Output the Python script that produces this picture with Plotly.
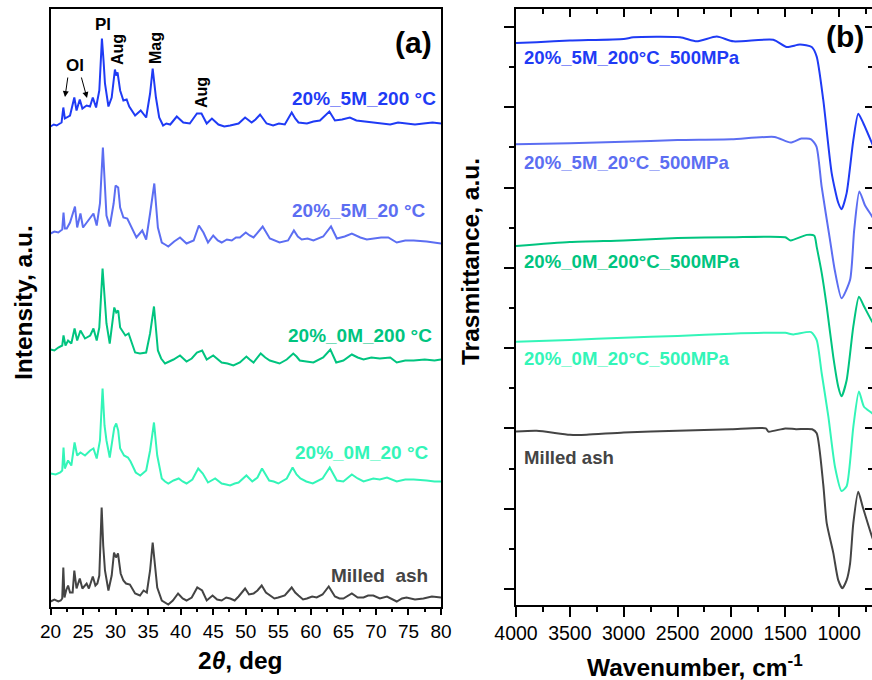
import numpy as np
import plotly.graph_objects as go

FONT = "Liberation Sans"

# ---------------- XRD data (2theta, deg / intensity above each trace's own baseline) ----------------
xrd_names = ["Milled  ash", "20%_0M_20 °C", "20%_0M_200 °C", "20%_5M_20 °C", "20%_5M_200 °C"]
xrd_colors = ["#444444", "#33f5b8", "#00c47f", "#5c6ef2", "#1f3bf5"]
xrd_offsets = [0, 120, 240, 360, 475]

milled_tt = [20, 20.6, 21.2, 21.57, 21.8, 21.97, 22.15, 22.4, 22.7, 23.0, 23.4, 23.66, 24.0, 24.5, 24.9, 25.55,
             25.9, 26.5, 26.9, 27.2, 27.5, 27.86, 28.1, 28.37, 28.9, 29.4, 29.76, 30.06, 30.37, 30.78, 31.2,
             31.6, 32.2, 33, 33.75, 34.3, 34.8, 35.3, 35.7, 36.1, 36.4, 37.1, 37.6, 38.1, 38.8, 39.6, 40.3,
             40.9, 41.7, 42.55, 43.3, 44, 44.9, 45.6, 46.3, 47.0, 47.6, 48.3, 48.9, 49.9, 50.5, 51.2, 51.8,
             52.45, 53.1, 53.7, 54.4, 55, 56, 57.06, 57.6, 58.1, 58.8, 59.4, 60.2, 60.9, 61.8, 62.75, 63.7,
             64.4, 65, 66.3, 67.2, 68.1, 68.8, 69.6, 70.6, 71.7, 72.5, 73.2, 74.0, 74.7, 76.0, 77.3, 78.6, 80]
milled_int = [5, 7, 5, 6, 8, 39, 9, 16, 21, 14, 14, 36, 18, 28, 18, 23,
              18, 30, 21, 23, 31, 99, 61, 36, 16, 31, 54, 49, 53, 33, 26,
              23, 22, 13, 11, 16, 14, 36, 64, 41, 19, 6, 4, 2, 6, 13, 8,
              6, 9, 19, 16, 6, 11, 7, 6, 9, 8, 6, 10, 18, 12, 13, 16,
              21, 14, 11, 8, 9, 11, 19, 14, 11, 7, 8, 10, 9, 12, 20, 10,
              8, 8, 13, 9, 9, 11, 11, 8, 10, 7, 5, 8, 9, 7, 8, 10, 9]

m0_20_tt = [20, 20.8, 21.5, 21.8, 22, 22.2, 22.7, 23.2, 23.7, 24.1, 24.6, 25.3, 26.1, 26.6, 27.1, 27.6, 28,
            28.3, 28.6, 29.1, 29.8, 30.1, 30.4, 30.7, 31.3, 31.9, 32.3, 33.1, 33.8, 34.7, 35.3, 35.9, 36.4,
            37.1, 37.6, 38.1, 38.9, 39.7, 40.3, 40.9, 41.8, 42.7, 43.4, 44.2, 45.3, 46.3, 47.0, 47.6, 48.3,
            48.9, 50.1, 51, 51.8, 52.5, 53.6, 54.3, 55, 56.3, 57.2, 57.8, 58.4, 59.3, 60.3, 61.8, 62.9, 64,
            65, 66.3, 67.2, 68.1, 69.6, 70.6, 71.7, 73.2, 74.5, 75.8, 77.8, 79, 80]
m0_20_int = [13, 12, 14, 16, 39, 18, 26, 21, 44, 31, 34, 31, 36, 38, 28, 46, 98,
             61, 46, 29, 59, 63, 56, 38, 31, 29, 25, 14, 11, 16, 36, 64, 31,
             8, 5, 3, 6, 8, 5, 3, 7, 18, 13, 4, 8, 3, 2, 1, 3,
             4, 11, 5, 9, 18, 6, 5, 3, 8, 19, 12, 8, 5, 3, 8, 19, 6,
             5, 12, 8, 5, 8, 7, 9, 5, 7, 7, 6, 5, 5]

m0_200_tt = [20, 20.6, 21.2, 21.8, 22, 22.3, 22.7, 23.2, 23.7, 24.1, 24.6, 25.3, 26.1, 26.6, 27.1, 27.5, 28,
             28.3, 28.6, 29.1, 29.8, 30.1, 30.4, 30.7, 31.5, 32, 33, 33.75, 34.7, 35.3, 35.9, 36.5, 37.0,
             37.6, 38.3, 38.9, 39.9, 40.9, 41.7, 42.5, 43.3, 44, 45, 45.7, 46.3, 47.2, 48.1, 49.1, 50.1,
             50.6, 51.2, 52.3, 53.0, 53.7, 54.5, 55.2, 56.3, 57.3, 57.8, 58.3, 59.3, 60.4, 61.9, 63, 63.9,
             65.0, 66.3, 67.2, 68.1, 69.3, 70.6, 72.2, 73.2, 74.5, 75.8, 77.5, 79, 80]
m0_200_int = [17, 16, 19, 21, 31, 21, 26, 23, 38, 26, 36, 28, 31, 38, 26, 39, 98,
              66, 43, 23, 59, 54, 56, 39, 31, 33, 14, 13, 14, 33, 60, 16, 8,
              3, 5, 7, 11, 5, 8, 14, 16, 7, 11, 7, 4, 3, 1, 4, 10,
              7, 4, 13, 9, 6, 4, 3, 7, 13, 10, 6, 5, 4, 9, 17, 4,
              6, 12, 9, 7, 9, 8, 9, 4, 6, 6, 7, 6, 7]

m5_20_tt = [20, 20.6, 21.2, 21.8, 22, 22.2, 22.5, 23, 23.76, 24.1, 24.6, 25, 25.8, 26.6, 27.1, 27.6, 28.05,
            28.3, 28.6, 29.1, 29.7, 30, 30.4, 30.7, 31.2, 31.8, 32.5, 33.2, 34.1, 34.7, 35.3, 35.95, 36.5,
            37.1, 37.6, 38.1, 39.0, 39.9, 40.9, 41.5, 42, 42.8, 43.5, 44.2, 45, 45.7, 46.3, 47.1, 47.85,
            48.5, 49.1, 50, 50.6, 51.2, 52.2, 52.6, 53.7, 54.5, 55.2, 56.5, 57.4, 58.0, 58.6, 59.5, 60.4,
            61.9, 63.1, 64, 65.2, 66.3, 67.6, 68.6, 69.6, 70.8, 71.9, 73.2, 74.5, 75.8, 77.8, 79, 80]
m5_20_int = [13, 15, 14, 17, 34, 18, 18, 24, 40, 19, 33, 19, 26, 33, 21, 43, 99,
             61, 31, 20, 43, 61, 59, 39, 29, 28, 19, 9, 16, 7, 33, 63, 19,
             4, 2, 0, 5, 9, 3, 5, 6, 21, 14, 4, 11, 6, 4, 7, 6,
             9, 9, 14, 11, 9, 17, 20, 8, 6, 4, 6, 16, 10, 7, 8, 6,
             10, 20, 8, 10, 13, 9, 7, 8, 9, 9, 4, 6, 6, 5, 4, 3]

m5_200_tt = [20, 20.5, 20.95, 21.7, 21.97, 22.2, 22.5, 23, 23.66, 24, 24.5, 24.9, 25.55, 26.07, 26.5, 27, 27.5,
             27.9, 28.15, 28.37, 28.9, 29.4, 29.9, 30.1, 30.3, 30.7, 31.2, 31.7, 32.1, 33, 33.86, 34.7, 35.3,
             35.7, 36.2, 36.7, 37.3, 37.8, 38.4, 39.4, 40.4, 41.4, 42.5, 43.2, 44, 44.8, 45.8, 46.7, 47.6,
             48.3, 48.9, 49.9, 50.9, 51.5, 52.2, 53.2, 54.2, 55.1, 56, 57.06, 57.6, 58.1, 59.4, 60.4, 61.4,
             62.85, 63.7, 64.8, 66, 67.0, 68.1, 69.6, 70.9, 72.2, 73.4, 74.7, 76.0, 77.3, 78.7, 80]
m5_200_int = [5, 7, 6, 9, 24, 13, 14, 16, 34, 21, 32, 23, 26, 25, 34, 24, 41,
              93, 71, 48, 25, 34, 62, 56, 59, 41, 31, 32, 25, 16, 21, 14, 38,
              63, 34, 14, 6, 8, 7, 15, 9, 8, 18, 18, 8, 13, 7, 5, 6,
              7, 8, 14, 9, 12, 17, 8, 6, 8, 7, 19, 13, 9, 8, 10, 11,
              20, 11, 12, 14, 11, 10, 9, 8, 7, 9, 8, 7, 8, 9, 8]

xrd_tt = [milled_tt, m0_20_tt, m0_200_tt, m5_20_tt, m5_200_tt]
xrd_int = [milled_int, m0_20_int, m0_200_int, m5_20_int, m5_200_int]

# ---------------- FTIR data (wavenumber, cm-1 / stacked transmittance, a.u.) ----------------
ftir_names = ["Milled ash", "20%_0M_20°C_500MPa", "20%_0M_200°C_500MPa",
              "20%_5M_20°C_500MPa", "20%_5M_200°C_500MPa"]
ftir_colors = ["#444444", "#33f5b8", "#00c47f", "#5c6ef2", "#1f3bf5"]

milled_wn = [4000, 3808, 3500, 3344, 3000, 2500, 2000, 1680, 1657, 1500, 1400, 1250, 1208, 1147, 1115,
             1054, 1008, 970, 930, 898, 868, 822, 780, 694, 650]
milled_tr = [1.96, 1.97, 1.92, 1.92, 1.95, 1.97, 1.99, 2.00, 1.96, 2.00, 1.99, 1.99, 1.94, 1.30, 0.82,
             0.45, 0.11, 0.01, 0.11, 0.32, 0.82, 1.21, 1.02, 0.65, 0.51]

f0_20_wn = [4000, 3500, 3000, 2500, 2000, 1500, 1425, 1260, 1208, 1162, 1100, 1038, 977, 930, 868, 816,
            769, 694, 650]
f0_20_tr = [3.08, 3.10, 3.13, 3.15, 3.18, 3.19, 3.17, 3.20, 3.10, 2.69, 2.15, 1.52, 1.22, 1.28, 2.02, 2.46,
            2.27, 2.19, 2.13]

f0_200_wn = [4000, 3500, 3000, 2500, 2000, 1500, 1450, 1300, 1230, 1208, 1162, 1115, 1054, 1008, 977,
             930, 868, 816, 769, 694, 650]
f0_200_tr = [4.27, 4.32, 4.34, 4.37, 4.38, 4.38, 4.34, 4.41, 4.40, 4.26, 3.94, 3.52, 2.89, 2.52, 2.40,
             2.60, 3.27, 3.64, 3.52, 3.33, 3.23]

f5_20_wn = [4000, 3500, 3000, 2500, 2000, 1600, 1450, 1350, 1260, 1210, 1162, 1085, 1040, 977, 898,
            860, 812, 760, 694, 650]
f5_20_tr = [5.54, 5.55, 5.57, 5.59, 5.60, 5.63, 5.56, 5.61, 5.60, 5.51, 5.01, 4.35, 3.97, 3.62, 3.85,
            4.47, 4.95, 4.78, 4.64, 4.53]

f5_200_wn = [4000, 3808, 3500, 3000, 2911, 2477, 2322, 2136, 1982, 1611, 1487, 1363, 1254, 1208, 1147,
             1069, 1008, 977, 930, 868, 822, 775, 694, 650]
f5_200_tr = [6.80, 6.81, 6.83, 6.85, 6.87, 6.87, 6.82, 6.88, 6.82, 6.84, 6.75, 6.78, 6.75, 6.63, 6.09,
             5.18, 4.81, 4.73, 4.93, 5.59, 5.92, 5.80, 5.55, 5.41]

ftir_wn = [milled_wn, f0_20_wn, f0_200_wn, f5_20_wn, f5_200_wn]
ftir_tr = [milled_tr, f0_20_tr, f0_200_tr, f5_20_tr, f5_200_tr]

# axis ticks
tt_ticks = [20, 25, 30, 35, 40, 45, 50, 55, 60, 65, 70, 75, 80]
wn_ticks = [4000, 3500, 3000, 2500, 2000, 1500, 1000]
wn_minor = [3750, 3250, 2750, 2250, 1750, 1250, 750]

fig = go.Figure()

for tt, inten, off, col, name in zip(xrd_tt, xrd_int, xrd_offsets, xrd_colors, xrd_names):
    fig.add_trace(go.Scatter(x=tt, y=np.array(inten) + off, mode="lines", name=name,
                             line=dict(color=col, width=2), xaxis="x", yaxis="y",
                             showlegend=False))

for wn, tr, col, name in zip(ftir_wn, ftir_tr, ftir_colors, ftir_names):
    fig.add_trace(go.Scatter(x=wn, y=tr, mode="lines", name=name,
                             line=dict(color=col, width=2, shape="spline", smoothing=0.6),
                             xaxis="x2", yaxis="y2", showlegend=False))

# empty traces that carry the inner tick rows of panel (b)
fig.add_trace(go.Scatter(x=[], y=[], xaxis="x3", yaxis="y2", showlegend=False, hoverinfo="skip"))
fig.add_trace(go.Scatter(x=[], y=[], xaxis="x2", yaxis="y3", showlegend=False, hoverinfo="skip"))

W, H = 872, 680
A_L, A_R, A_T, A_B = 50.5, 441, 9, 606.5
B_L, B_T, B_B = 516, 9, 604.5
XRD_RANGE = [0, A_B - A_T]
FTIR_RANGE = [(589 - B_B) / 80.3, (589 - B_T) / 80.3]
WN_RANGE = [4000, 4000 - (W - B_L) / 0.1077]

common = dict(showgrid=False, zeroline=False, automargin=False)

fig.update_layout(
    width=W, height=H, margin=dict(l=0, r=0, t=0, b=0, pad=0, autoexpand=False),
    paper_bgcolor="white", plot_bgcolor="white",
    xaxis=dict(domain=[A_L / W, A_R / W], range=[20, 80], tickmode="array", tickvals=tt_ticks,
               ticks="outside", ticklen=7, tickwidth=1.5, tickcolor="black",
               minor=dict(dtick=2.5, tick0=0, ticks="outside", ticklen=4, tickwidth=1.5, tickcolor="black"),
               showline=True, linecolor="black", linewidth=1.5, mirror=True,
               tickfont=dict(family=FONT, size=19, color="black"), anchor="y", **common),
    yaxis=dict(domain=[1 - A_B / H, 1 - A_T / H], range=XRD_RANGE, showticklabels=False,
               ticks="", showline=True, linecolor="black", linewidth=1.5, mirror=True,
               anchor="x", **common),
    xaxis2=dict(domain=[B_L / W, 1.0], range=WN_RANGE, tickmode="array", tickvals=wn_ticks,
                ticks="outside", ticklen=10, tickwidth=2, tickcolor="black",
                minor=dict(tickmode="array", tickvals=wn_minor, ticks="outside", ticklen=5,
                           tickwidth=2, tickcolor="black"),
                showline=True, linecolor="black", linewidth=2,
                tickfont=dict(family=FONT, size=19.5, color="black"), anchor="y2", **common),
    xaxis3=dict(overlaying="x2", side="top", range=WN_RANGE, tickmode="array", tickvals=wn_ticks,
                ticks="inside", ticklen=8, tickwidth=2, tickcolor="black",
                minor=dict(tickmode="array", tickvals=wn_minor, ticks="inside", ticklen=5,
                           tickwidth=2, tickcolor="black"),
                showline=True, linecolor="black", linewidth=2, showticklabels=False,
                anchor="y2", **common),
    yaxis2=dict(domain=[1 - B_B / H, 1 - B_T / H], range=FTIR_RANGE, dtick=1, tick0=0,
                ticks="outside", ticklen=10, tickwidth=2, tickcolor="black",
                minor=dict(dtick=0.5, tick0=0, ticks="outside", ticklen=5, tickwidth=2, tickcolor="black"),
                showline=True, linecolor="black", linewidth=2, showticklabels=False,
                anchor="x2", **common),
    yaxis3=dict(overlaying="y2", side="right", range=FTIR_RANGE, dtick=1, tick0=0,
                ticks="inside", ticklen=7, tickwidth=2, tickcolor="black",
                minor=dict(dtick=0.5, tick0=0, ticks="inside", ticklen=4, tickwidth=2, tickcolor="black"),
                showline=False, showticklabels=False, anchor="x2", **common),
)

ann = []


def px_to_tt(px):
    return 20 + (px - A_L) * 60 / (A_R - A_L)


def px_to_int(py):
    return A_B - py


def px_to_wn(px):
    return 4000 - (px - B_L) / 0.1077


def px_to_tr(py):
    return (589 - py) / 80.3


# sample labels, panel (a)
xrd_label_pos = [(430, 575), (431, 453), (434, 336), (428, 211), (437.5, 99)]
for (lx, ly), name, col in zip(xrd_label_pos, xrd_names, xrd_colors):
    ann.append(dict(x=px_to_tt(lx), y=px_to_int(ly), xref="x", yref="y", text="<b>%s</b>" % name,
                    showarrow=False, xanchor="right", yanchor="middle",
                    font=dict(family=FONT, size=19, color=col)))

# phase labels, panel (a)
peak_font = dict(family=FONT, size=16, color="black")
ann.append(dict(x=px_to_tt(103), y=px_to_int(25), xref="x", yref="y", text="<b>Pl</b>",
                showarrow=False, xanchor="center", yanchor="middle",
                font=dict(family=FONT, size=17, color="black")))
ann.append(dict(x=px_to_tt(75), y=px_to_int(66), xref="x", yref="y", text="<b>Ol</b>",
                showarrow=False, xanchor="center", yanchor="middle",
                font=dict(family=FONT, size=17, color="black")))
for (lx, ly, txt) in [(118, 50, "Aug"), (156, 48, "Mag"), (202, 93, "Aug")]:
    ann.append(dict(x=px_to_tt(lx), y=px_to_int(ly), xref="x", yref="y", text="<b>%s</b>" % txt,
                    showarrow=False, textangle=-90, xanchor="center", yanchor="middle",
                    font=peak_font))
for (x0, y0, x1, y1) in [(68, 76, 65, 97), (81, 76, 87, 98)]:
    ann.append(dict(x=px_to_tt(x1), y=px_to_int(y1), ax=px_to_tt(x0), ay=px_to_int(y0),
                    xref="x", yref="y", axref="x", ayref="y", text="", showarrow=True,
                    arrowhead=2, arrowsize=1.2, arrowwidth=1, arrowcolor="black"))

ann.append(dict(x=px_to_tt(413), y=px_to_int(43), xref="x", yref="y", text="<b>(a)</b>",
                showarrow=False, xanchor="center", yanchor="middle",
                font=dict(family=FONT, size=30, color="black")))

# sample labels, panel (b)
ftir_label_y = [458, 359, 262, 163, 58]
for ly, name, col in zip(ftir_label_y, ftir_names, ftir_colors):
    ann.append(dict(x=px_to_wn(522), y=px_to_tr(ly), xref="x2", yref="y2", text="<b>%s</b>" % name,
                    showarrow=False, xanchor="left", yanchor="middle",
                    font=dict(family=FONT, size=18.6, color=col)))
ann.append(dict(x=px_to_wn(845), y=px_to_tr(37), xref="x2", yref="y2", text="<b>(b)</b>",
                showarrow=False, xanchor="center", yanchor="middle",
                font=dict(family=FONT, size=30, color="black")))

# axis titles
title_font = dict(family=FONT, size=24.5, color="black")
for (tx, ty, txt, ang) in [(240, 660, "<b>2<i>θ</i>, deg</b>", 0),
                           (695, 665, "<b>Wavenumber, cm<sup>-1</sup></b>", 0),
                           (23, 303, "<b>Intensity, a.u.</b>", -90),
                           (470, 262, "<b>Trasmittance, a.u.</b>", -90)]:
    ann.append(dict(x=tx / W, y=1 - ty / H, xref="paper", yref="paper", text=txt,
                    showarrow=False, textangle=ang, xanchor="center", yanchor="middle",
                    font=title_font))

fig.update_layout(annotations=ann)

fig.write_html("out.html")
